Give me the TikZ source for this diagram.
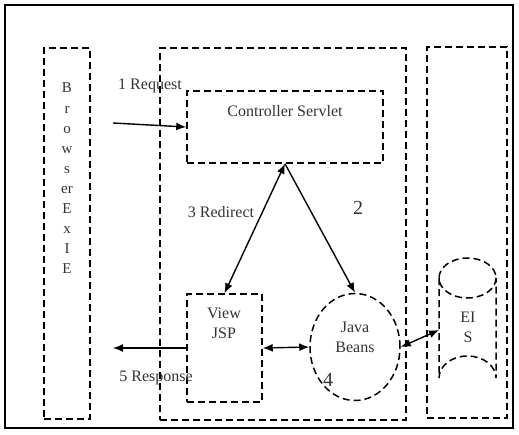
\documentclass[tikz,border=0pt]{standalone}
\usepackage{fontspec}
\setmainfont{Liberation Serif}
\usetikzlibrary{shapes.geometric,arrows.meta}
\begin{document}
\begin{tikzpicture}[x=1pt,y=-1pt,
  dbox/.style={draw, dash pattern=on 7pt off 4pt, line width=1.5pt, inner sep=0},
  lbl/.style={text=black!80, font=\fontsize{16}{20}\selectfont, inner sep=0},
  big/.style={text=black!80, font=\fontsize{20}{22}\selectfont, inner sep=0},
  arr/.style={line width=1.4pt, -{Latex[length=10pt,width=8pt]}},
  darr/.style={line width=1.4pt, {Latex[length=10pt,width=8pt]}-{Latex[length=10pt,width=8pt]}}]
\useasboundingbox (0,0) rectangle (519,434);
\draw[line width=2.2pt] (5,5) rectangle (513,428);
% containers
\node[dbox, minimum width=46, minimum height=371] (browser) at (67,233.5) {};
\node[dbox, minimum width=246, minimum height=372] (web) at (283,234) {};
\node[dbox, minimum width=80, minimum height=371] (eisbox) at (467,232.5) {};
% browser letters
\node[lbl, align=center, font=\fontsize{15}{20.1}\selectfont] (btext) at (67,178.5) {B\\r\\o\\w\\s\\er\\E\\x\\I\\E};
% controller
\node[dbox, minimum width=196, minimum height=72] (ctrl) at (285,127) {};
\node[lbl] (ctext) at (285,111) {Controller Servlet};
% view
\node[dbox, minimum width=75, minimum height=108] (view) at (224.5,348) {};
\node[lbl, align=center] (vtext) at (224,323) {View\\JSP};
% java beans
\node[dbox, ellipse, minimum width=90, minimum height=107] (beans) at (355,347) {};
\node[lbl, align=center] (btxt) at (355,337.5) {Java\\Beans};
\node[big] (four) at (328,380) {4};
% EIS cylinder
\draw[dash pattern=on 7pt off 4pt, line width=1.5pt] (467.5,278) ellipse [x radius=28.5, y radius=20];
\draw[dash pattern=on 7pt off 4pt, line width=1.5pt] (439,278) -- (439,378) arc[start angle=180, end angle=360, x radius=28.5, y radius=22] -- (496,278);
\coordinate (eisL) at (439,330);
\node[lbl, align=center] (etext) at (468,327) {EI\\S};
% connectors
\coordinate (reqstart) at (113,123);
\coordinate (respend) at (113,348);
\draw[arr] (reqstart) -- (ctrl.west);
\node[lbl] (l1) at (150,86) {1 Request};
\draw[darr] (ctrl.south) -- (view.north);
\node[lbl] (l3) at (221,212) {3 Redirect};
\draw[arr] (ctrl.south) -- (beans.north);
\node[big] (l2) at (358,208) {2};
\draw[darr] (view.east) -- (beans.west);
\draw[darr] (beans.east) -- (eisL);
\draw[arr] (view.west) -- (respend);
\node[lbl] (l5) at (156,378) {5 Response};
\end{tikzpicture}
\end{document}
